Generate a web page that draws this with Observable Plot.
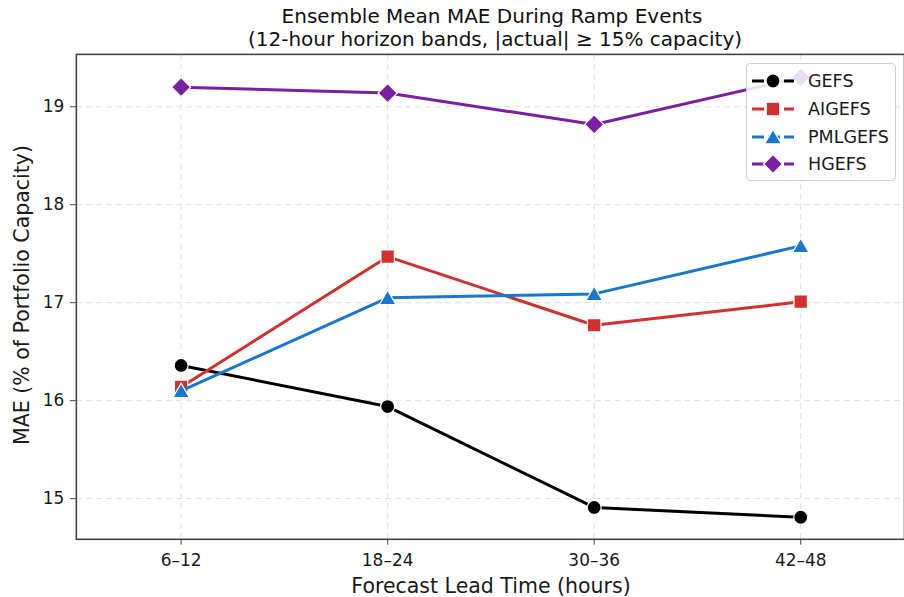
<!DOCTYPE html>
<html>
<head>
<meta charset="utf-8">
<script src="https://cdn.jsdelivr.net/npm/d3@7"></script>
<script src="https://cdn.jsdelivr.net/npm/@observablehq/plot@0.6"></script>
<style>
  html, body { margin: 0; padding: 0; background: #fff; }
  body { width: 904px; height: 597px; overflow: hidden; position: relative; font-family: "DejaVu Sans", sans-serif; }
  #chart { position: absolute; left: 0; top: 0; }
  .ov { position: absolute; white-space: nowrap; color: #1a1a1a; }
  #legend { position: absolute; left: 746px; top: 63px; width: 150px; height: 118px; box-sizing: border-box;
    border: 1px solid #d0d0d0; border-radius: 4px; background: rgba(255,255,255,0.85); }
  .lrow { position: absolute; left: 4px; height: 24px; display: flex; align-items: center; font-size: 17.5px; color: #1a1a1a; }
  .lrow svg { margin-right: 13px; }
</style>
</head>
<body>
<div id="chart"></div>
<script>
// ---- data ----
const bands = ["6–12", "18–24", "30–36", "42–48"];
const seriesNames = ["GEFS", "AIGEFS", "PMLGEFS", "HGEFS"];
const gefs    = [16.36, 15.94, 14.91, 14.81];
const aigefs  = [16.14, 17.47, 16.77, 17.01];
const pmlgefs = [16.10, 17.05, 17.09, 17.58];
const hgefs   = [19.20, 19.14, 18.82, 19.30];
const yTicks  = [15, 16, 17, 18, 19];
const colors  = ["#000000", "#d32f2f", "#1976d2", "#7b1fa2"];
const symbols = ["circle", "square", "triangle", "diamond2"];
const radii   = [7, 7.6, 6.2, 8.6];
const symDy   = [0, 0, 2, 0];

const values = [gefs, aigefs, pmlgefs, hgefs];
const rows = [];
seriesNames.forEach((s, i) => bands.forEach((b, j) => rows.push({series: s, band: b, mae: values[i][j]})));

const marks = [
  Plot.gridY(yTicks, {stroke: "#cfcfcf", strokeOpacity: 0.7, strokeDasharray: "6,4", strokeWidth: 1}),
  Plot.gridX(bands, {stroke: "#cfcfcf", strokeOpacity: 0.7, strokeDasharray: "6,4", strokeWidth: 1}),
  Plot.axisY(yTicks, {tickSize: 6, tickPadding: 6, fontSize: 17, label: null, tickFormat: d => String(d), stroke: "#444", fill: "#1a1a1a"}),
  Plot.axisX(bands, {tickSize: 6, tickPadding: 9, fontSize: 17, label: null, stroke: "#444", fill: "#1a1a1a"}),
];
seriesNames.forEach((s, i) => {
  const d = rows.filter(r => r.series === s);
  marks.push(Plot.line(d, {x: "band", y: "mae", stroke: colors[i], strokeWidth: 3}));
  marks.push(Plot.dot(d, {x: "band", y: "mae", fill: colors[i], stroke: "#fff", strokeWidth: 1.2, symbol: () => symbols[i], r: radii[i], dy: symDy[i]}));
});
marks.push(Plot.frame({stroke: "#444", strokeWidth: 1.6}));

const chart = Plot.plot({
  width: 906,
  height: 597,
  marginLeft: 76,
  marginRight: 0,
  marginTop: 54,
  marginBottom: 57,
  style: {fontFamily: "DejaVu Sans, sans-serif", background: "#fff", overflow: "visible"},
  x: {type: "point", domain: bands, padding: 0.5},
  y: {domain: [14.585, 19.535]},
  symbol: {type: "identity"},
  marks
});
document.getElementById("chart").appendChild(chart);

// ---- text overlays ----
function ov(text, style) {
  const el = document.createElement("div");
  el.className = "ov";
  el.textContent = text;
  Object.assign(el.style, style);
  document.body.appendChild(el);
  return el;
}
ov("Ensemble Mean MAE During Ramp Events", {left: "492px", top: "4px", transform: "translateX(-50%)", fontSize: "20px", color: "#111"});
ov("(12-hour horizon bands, |actual| \u2265 15% capacity)", {left: "495px", top: "27px", transform: "translateX(-50%)", fontSize: "20px", color: "#111"});
ov("Forecast Lead Time (hours)", {left: "491px", top: "574px", transform: "translateX(-50%)", fontSize: "20.5px"});
ov("MAE (% of Portfolio Capacity)", {left: "22px", top: "295px", transform: "translate(-50%,-50%) rotate(-90deg)", fontSize: "20.5px"});

// ---- legend ----
const legend = document.createElement("div");
legend.id = "legend";
document.body.appendChild(legend);
const ys = [5, 33, 61, 88];
seriesNames.forEach((s, i) => {
  const row = document.createElement("div");
  row.className = "lrow";
  row.style.top = ys[i] + "px";
  const sym = d3.symbol().type({circle: d3.symbolCircle, square: d3.symbolSquare, triangle: d3.symbolTriangle, diamond2: d3.symbolDiamond2}[symbols[i]]).size(radii[i] * radii[i] * Math.PI)();
  row.innerHTML = `<svg width="44" height="24"><line x1="1" x2="43" y1="12" y2="12" stroke="${colors[i]}" stroke-width="3" stroke-dasharray="12,4"/><path d="${sym}" transform="translate(22,${12 + symDy[i]})" fill="${colors[i]}" stroke="#fff" stroke-width="1.2"/></svg><span>${s}</span>`;
  legend.appendChild(row);
});
</script>
</body>
</html>
